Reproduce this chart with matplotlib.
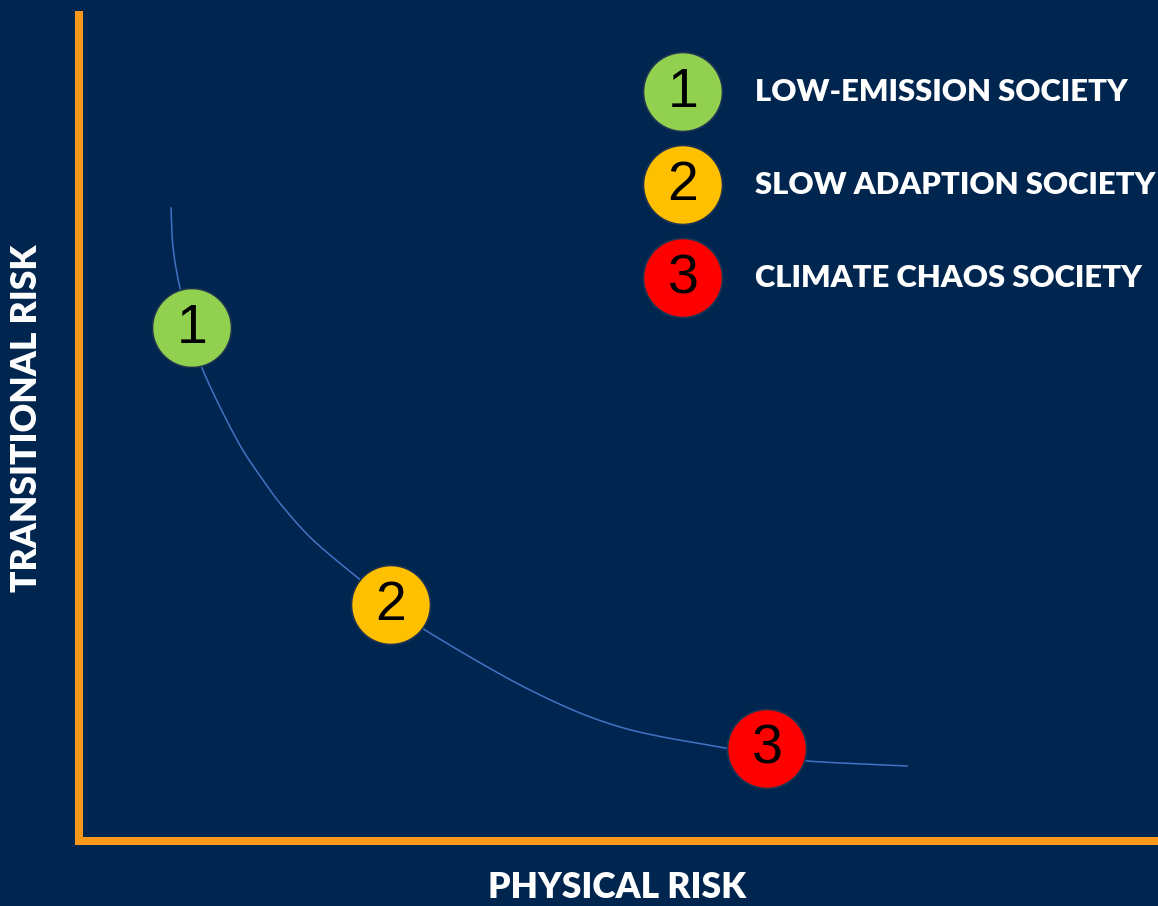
import numpy as np
import matplotlib
matplotlib.use("Agg")
import matplotlib.pyplot as plt
from matplotlib.patches import Circle

# curve (physical risk, transitional risk), origin at the axes corner
curve_x = [92, 94, 101, 113, 123, 158, 184, 204, 234, 279, 312, 346, 451, 541, 646, 688, 728, 828]
curve_y = [633, 594, 553, 513, 473, 401, 361, 334, 301, 263, 237, 211, 151, 114, 93, 86, 80, 75]

# scenario markers on the curve
scen_num = ["1", "2", "3"]
scen_x = [113, 312, 688]
scen_y = [513, 236, 92]
scen_col = ["#92D050", "#FFC000", "#FF0000"]

legend_labels = ["LOW-EMISSION SOCIETY", "SLOW ADAPTION SOCIETY", "CLIMATE CHAOS SOCIETY"]

bg = "#002650"
orange = "#F7981D"


def smooth(xs, ys, n=20):
    # catmull-rom through the read points, only to draw a smooth line
    p = np.column_stack([xs, ys]).astype(float)
    p = np.vstack([2 * p[0] - p[1], p, 2 * p[-1] - p[-2]])
    out = []
    t = np.linspace(0, 1, n, endpoint=False)[:, None]
    for i in range(1, len(p) - 2):
        p0, p1, p2, p3 = p[i - 1], p[i], p[i + 1], p[i + 2]
        seg = 0.5 * (2 * p1 + (-p0 + p2) * t + (2 * p0 - 5 * p1 + 4 * p2 - p3) * t ** 2
                     + (-p0 + 3 * p1 - 3 * p2 + p3) * t ** 3)
        out.append(seg)
    out.append(p[-2][None, :])
    out = np.vstack(out)
    return out[:, 0], out[:, 1]


fig = plt.figure(figsize=(11.58, 9.06), dpi=100, facecolor=bg)
ax = fig.add_axes([0, 0, 1, 1])
ax.set_facecolor(bg)
ax.set_xlim(-79, 1079)
ax.set_ylim(-65, 841)
ax.set_aspect("equal")
ax.axis("off")

# axes lines
ax.plot([0, 0], [-4, 830], color=orange, lw=5.8, solid_capstyle="butt", zorder=2)
ax.plot([-4, 1079], [0, 0], color=orange, lw=5.8, solid_capstyle="butt", zorder=2)

# curve
sx, sy = smooth(curve_x, curve_y)
ax.plot(sx, sy, color="#4472C4", lw=1.1, zorder=3)


def badge(x, y, txt, col):
    ax.add_patch(Circle((x, y), 39.5, facecolor=col, edgecolor="#1f3352", lw=1.2, zorder=4))
    ax.text(x, y - 1, txt, ha="center", va="center", fontsize=40,
            family="Liberation Sans", color="black", zorder=5)


for n, x, y, c in zip(scen_num, scen_x, scen_y, scen_col):
    badge(x, y, n, c)

# legend
leg_x = 604
leg_y = [749, 656, 563]
for n, c, lab, y in zip(scen_num, scen_col, legend_labels, leg_y):
    badge(leg_x, y, n, c)
    ax.text(leg_x + 72, y, lab, ha="left", va="center", fontsize=22.3,
            family="Lato", weight="heavy", color="white")

# axis titles
ax.text(-52, 423, "TRANSITIONAL RISK", rotation=90, ha="center", va="center",
        fontsize=25.5, family="Lato", weight="heavy", color="white")
ax.text(538, -47, "PHYSICAL RISK", ha="center", va="center",
        fontsize=25.5, family="Lato", weight="heavy", color="white")

fig.savefig("out.png", dpi=100, facecolor=bg)
